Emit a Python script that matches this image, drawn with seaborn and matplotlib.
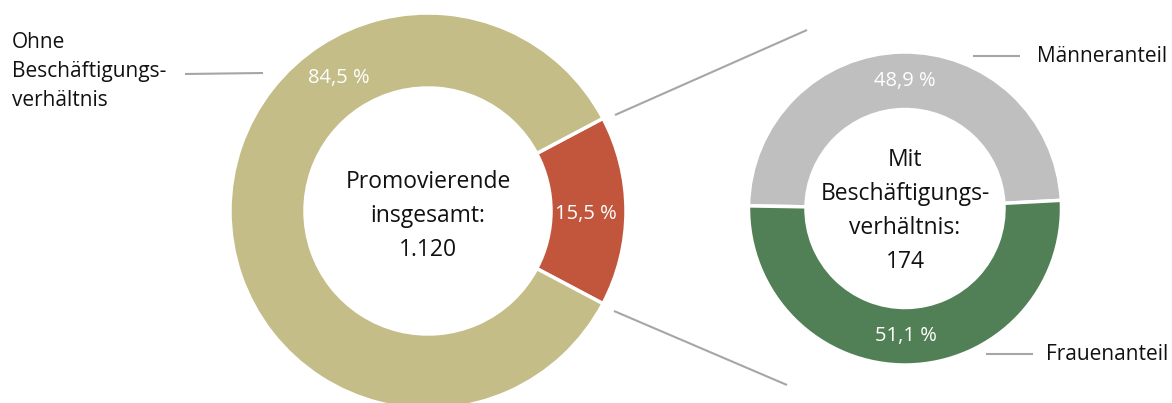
import seaborn as sns
import matplotlib.pyplot as plt

# data
overall_labels = ['Mit Beschäftigungsverhältnis', 'Ohne Beschäftigungsverhältnis']
overall_share = [15.5, 84.5]
overall_total = '1.120'

gender_labels = ['Männeranteil', 'Frauenanteil']
gender_share = [48.9, 51.1]
gender_total = '174'

sns.set_style('white')
plt.rcParams['font.family'] = ['Open Sans', 'DejaVu Sans']

colors_left = ['#C2563C', '#C4BD87']
colors_right = ['#BFBFBF', '#528056']
line_col = '#A6A6A6'

W, H = 1172, 403


def Y(y):
    # pixel row -> data y (y axis points up)
    return H - y


def pct(v):
    return f'{v:.1f} %'.replace('.', ',')


fig = plt.figure(figsize=(W / 100, H / 100), dpi=100)
ax = fig.add_axes([0, 0, 1, 1])

# left donut, the small share centred on 3 o'clock
ax.pie(overall_share, colors=colors_left, center=(428, Y(211)), radius=198,
       startangle=-overall_share[0] * 3.6 / 2, counterclock=True,
       wedgeprops=dict(width=75, edgecolor='white', linewidth=2.5))

# right donut
ax.pie(gender_share, colors=colors_right, center=(905, Y(208.5)), radius=156.5,
       startangle=3, counterclock=True,
       wedgeprops=dict(width=57.5, edgecolor='white', linewidth=2.5))

ax.set_xlim(0, W)
ax.set_ylim(0, H)
ax.set_aspect('equal')
ax.axis('off')

# percentage labels
pkw = dict(color='white', fontsize=14.5, ha='center', va='center')
ax.text(339, Y(78), pct(overall_share[1]), **pkw)
ax.text(586, Y(214), pct(overall_share[0]), **pkw)
ax.text(905, Y(81), pct(gender_share[0]), **pkw)
ax.text(906, Y(336), pct(gender_share[1]), **pkw)

# centre texts
ax.text(428, Y(216), f'Promovierende\ninsgesamt:\n{overall_total}', fontsize=16.5,
        ha='center', va='center', linespacing=1.55, color='#111111')
ax.text(905, Y(211), f'Mit\nBeschäftigungs-\nverhältnis:\n{gender_total}', fontsize=16.5,
        ha='center', va='center', linespacing=1.55, color='#111111')

# outer labels
ax.text(12, Y(72), 'Ohne\nBeschäftigungs-\nverhältnis', fontsize=15,
        ha='left', va='center', linespacing=1.5, color='#111111')
ax.text(1037, Y(56), gender_labels[0], fontsize=15, ha='left', va='center', color='#111111')
ax.text(1046, Y(355), gender_labels[1], fontsize=15, ha='left', va='center', color='#111111')

# leader and connector lines
lkw = dict(color=line_col, linewidth=1.5, solid_capstyle='butt')
ax.plot([185, 263], [Y(74), Y(73)], **lkw)
ax.plot([973, 1020], [Y(56), Y(56)], **lkw)
ax.plot([986, 1033], [Y(354), Y(354)], **lkw)
ax.plot([615, 807], [Y(115), Y(30)], **lkw)
ax.plot([614, 787], [Y(311), Y(385)], **lkw)

fig.savefig('out.png', dpi=100)
